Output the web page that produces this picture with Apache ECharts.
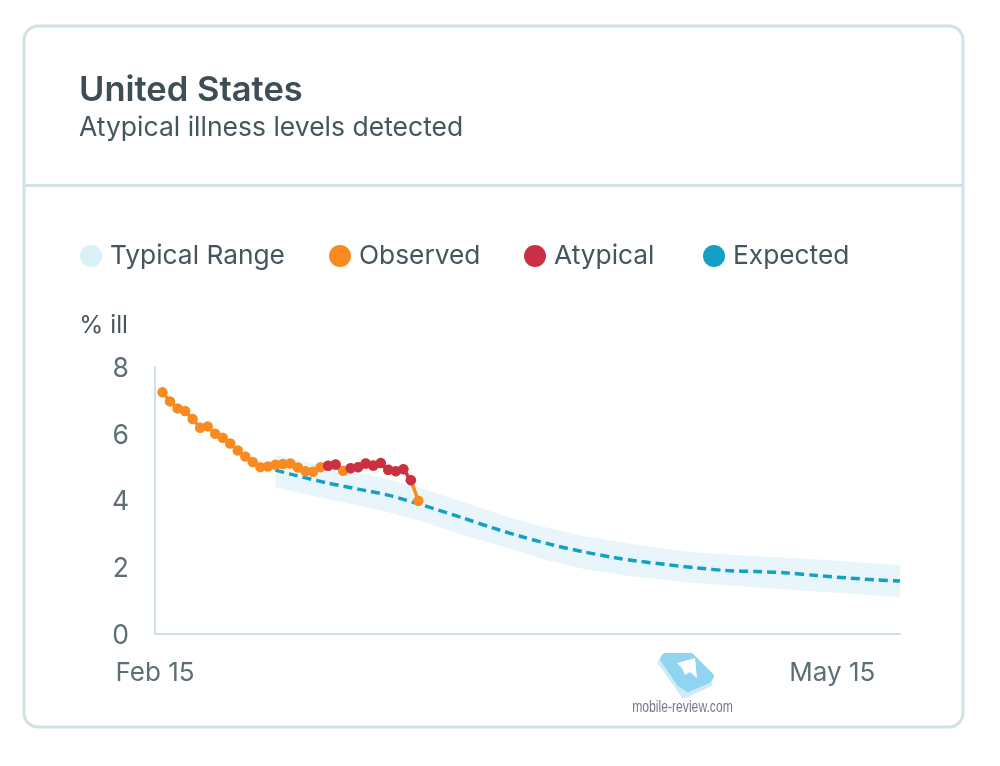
<!DOCTYPE html>
<html lang="en">
<head>
    <meta charset="UTF-8">
    <title>United States - Atypical illness levels detected</title>
    <style>
        html, body { margin: 0; padding: 0; background: #fff; }
        div#container { width: 1000px; height: 766px; }
    </style>
</head>
<body>
    <div id="container"></div>
    <script src="https://cdn.jsdelivr.net/npm/echarts@6/dist/echarts.min.js"></script>
    <script>
        var fontName = 'Inter';
        var legendNames = ['Typical Range', 'Observed', 'Atypical', 'Expected'];
        var legendLefts = [75, 324, 519, 698];
        var xTickDays = [0, 90];
        var xTickLabels = ['Feb 15', 'May 15'];

        // days after Feb 15
        var observedDays = [1, 2, 3, 4, 5, 6, 7, 8, 9, 10, 11, 12, 13, 14, 15, 16, 17, 18, 19, 20, 21, 22, 23, 24, 25, 26, 27, 28, 29, 30, 31, 32, 33, 34, 35];
        var observedValues = [7.24, 6.97, 6.76, 6.68, 6.44, 6.18, 6.22, 6.00, 5.88, 5.71, 5.50, 5.32, 5.15, 5.00, 5.02, 5.07, 5.09, 5.11, 4.99, 4.88, 4.86, 5.00, 5.04, 5.08, 4.89, 4.97, 5.00, 5.11, 5.05, 5.12, 4.92, 4.88, 4.94, 4.61, 3.99];
        var atypicalDays = [23, 24, 25, 26, 27, 28, 29, 30, 31, 32, 33, 34];
        var atypicalValues = [5.04, 5.08, null, 4.97, 5.00, 5.11, 5.05, 5.12, 4.92, 4.88, 4.94, 4.61];

        var expectedDays = [16, 18, 23, 27, 31, 36, 41, 45, 49, 53, 57, 61, 64, 68, 72, 76, 80, 84, 88, 92, 96, 99];
        var expectedValues = [4.91, 4.79, 4.52, 4.34, 4.16, 3.83, 3.47, 3.17, 2.90, 2.66, 2.46, 2.29, 2.19, 2.08, 1.98, 1.90, 1.87, 1.83, 1.75, 1.68, 1.62, 1.59];

        var bandDays = [16, 20, 25, 30, 35, 41, 47, 52, 57, 63, 71, 79, 85, 92, 99];
        var bandUpper = [5.36, 5.15, 4.91, 4.70, 4.39, 3.95, 3.50, 3.19, 2.93, 2.71, 2.46, 2.34, 2.28, 2.17, 2.07];
        var bandLower = [4.40, 4.19, 3.95, 3.71, 3.41, 2.96, 2.57, 2.22, 1.95, 1.74, 1.54, 1.41, 1.32, 1.21, 1.11];

        function pairs(xs, ys) {
            return xs.map(function(x, i) { return [x, ys[i]]; });
        }

        // the whole band is one polygon, drawn when the first row comes in
        function renderBand(params, api) {
            if (params.dataIndex !== 0) return null;
            var pts = [];
            bandDays.forEach(function(d, i) { pts.push(api.coord([d, bandUpper[i]])); });
            for (var i = bandDays.length - 1; i >= 0; i--) {
                pts.push(api.coord([bandDays[i], bandLower[i]]));
            }
            return { type: 'polygon', shape: { points: pts }, style: { fill: '#e8f5fa' } };
        }

        var chart = echarts.init(document.getElementById('container'), null, { renderer: 'canvas' });
        var options = {
            animation: false,
            backgroundColor: '#fff',
            title: {
                left: 79,
                top: 73,
                padding: 0,
                itemGap: 7,
                text: 'United States',
                textStyle: { fontFamily: fontName, fontSize: 34.5, fontWeight: 600, color: '#3d4f54' },
                subtext: 'Atypical illness levels detected',
                subtextStyle: { fontFamily: fontName, fontSize: 26.5, fontWeight: 400, color: '#44565b' }
            },
            // one legend per name, the gaps in the picture follow a wider font
            legend: legendNames.map(function(name, i) {
                return {
                    left: legendLefts[i],
                    top: 238,
                    icon: 'circle',
                    itemWidth: 22,
                    itemHeight: 22,
                    data: [name],
                    selectedMode: false,
                    textStyle: { fontFamily: fontName, fontSize: 26.3, color: '#44565b', padding: [0, 0, 0, 3] }
                };
            }),
            grid: { left: 155, right: 100, top: 367, bottom: 132 },
            xAxis: {
                type: 'value',
                min: 0,
                max: 99,
                interval: 90,
                splitLine: { show: false },
                axisTick: { show: false },
                axisLine: { onZero: false, lineStyle: { color: '#cfe0e4', width: 2 } },
                axisLabel: {
                    margin: 26,
                    fontFamily: fontName,
                    fontSize: 26,
                    color: '#5d6f75',
                    showMaxLabel: false,
                    formatter: function(val) {
                        var i = xTickDays.indexOf(val);
                        return i < 0 ? '' : xTickLabels[i];
                    }
                }
            },
            yAxis: {
                type: 'value',
                min: 0,
                max: 8,
                interval: 2,
                name: '% ill',
                nameGap: 29,
                nameTextStyle: { fontFamily: fontName, fontSize: 24.5, color: '#44565b', align: 'right', padding: [0, 27, 0, 0] },
                splitLine: { show: false },
                axisTick: { show: false },
                axisLine: { show: true, lineStyle: { color: '#cfe0e4', width: 2 } },
                axisLabel: {
                    margin: 26,
                    formatter: function(val) { return '{t|' + val + '}'; },
                    rich: { t: { fontFamily: fontName, fontSize: 26.5, color: '#5d6f75', padding: [4, 0, 0, 0] } }
                }
            },
            series: [{
                name: 'Typical Range',
                type: 'custom',
                renderItem: renderBand,
                itemStyle: { color: '#d8f0f7' },
                encode: { x: 0, y: [1, 2] },
                data: bandDays.map(function(d, i) { return [d, bandUpper[i], bandLower[i]]; })
            }, {
                name: 'Expected',
                type: 'line',
                symbol: 'none',
                smooth: 0.3,
                itemStyle: { color: '#14a0c6' },
                lineStyle: { color: '#14a0c6', width: 3.5, type: [9, 5] },
                data: pairs(expectedDays, expectedValues)
            }, {
                name: 'Observed',
                type: 'line',
                symbol: 'circle',
                symbolSize: 10.5,
                itemStyle: { color: '#f98a20' },
                lineStyle: { color: '#f98a20', width: 3.5 },
                data: pairs(observedDays, observedValues)
            }, {
                name: 'Atypical',
                type: 'line',
                symbol: 'circle',
                symbolSize: 10.5,
                connectNulls: false,
                itemStyle: { color: '#c93045' },
                lineStyle: { color: '#c93045', width: 3.5 },
                data: pairs(atypicalDays, atypicalValues)
            }],
            graphic: [
                // card outline and divider
                { type: 'rect', z: -1, shape: { x: 24, y: 26, width: 939, height: 701, r: 14 }, style: { fill: 'none', stroke: '#d0e2e6', lineWidth: 3 } },
                { type: 'line', z: -1, shape: { x1: 24, y1: 185.5, x2: 963, y2: 185.5 }, style: { stroke: '#d0e2e6', lineWidth: 3 } },
                // watermark
                { type: 'polygon', shape: { points: [[660, 662], [684, 696], [710, 684], [690, 664]] }, style: { fill: '#d2e9f9', stroke: '#d2e9f9', lineWidth: 5, lineJoin: 'round' } },
                { type: 'polygon', shape: { points: [[665, 656], [691, 656], [711, 676], [709, 680], [688, 689], [680, 684], [663, 659]] }, style: { fill: '#8fd4f0', stroke: '#8fd4f0', lineWidth: 6, lineJoin: 'round' } },
                { type: 'polygon', shape: { points: [[677, 663], [695, 658], [697, 678], [690, 672], [685, 675], [682, 668]] }, style: { fill: '#fff' } },
                { type: 'text', x: 682.5, y: 708, scaleX: 0.76, style: { x: 0, y: 0, text: 'mobile-review.com', align: 'center', verticalAlign: 'middle', fontFamily: 'Liberation Sans', fontSize: 16, fill: '#74788f' } }
            ]
        };
        chart.setOption(options);
    </script>
</body>
</html>
